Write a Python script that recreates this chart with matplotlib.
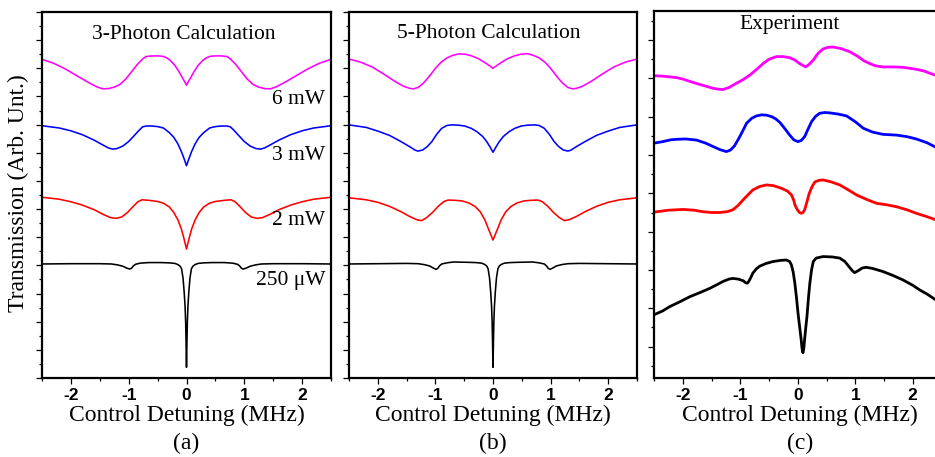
import matplotlib
matplotlib.use("Agg")
import matplotlib.pyplot as plt
from matplotlib.ticker import MultipleLocator, NullFormatter

# ---------------- data ----------------
# Panel (a): 3-photon calculation
a_mag_x = [-2.5, -2.3, -2.1, -1.9, -1.7, -1.55, -1.45, -1.35, -1.25, -1.15, -1.05, -0.95, -0.85, -0.76, -0.7, -0.6,
           -0.5, -0.42, -0.35, -0.28, -0.2, -0.13, -0.07, -0.03, 0.0, 0.03, 0.07, 0.13, 0.2, 0.28, 0.35, 0.42, 0.5,
           0.6, 0.7, 0.76, 0.85, 0.95, 1.05, 1.15, 1.25, 1.35, 1.45, 1.55, 1.7, 1.9, 2.1, 2.3, 2.5]
a_mag_y = [11.32, 11.18, 10.98, 10.74, 10.50, 10.34, 10.27, 10.28, 10.33, 10.43, 10.62, 10.88, 11.14, 11.33, 11.42,
           11.44, 11.44, 11.43, 11.38, 11.28, 11.10, 10.88, 10.66, 10.52, 10.40, 10.52, 10.66, 10.88, 11.10, 11.28,
           11.38, 11.43, 11.44, 11.44, 11.42, 11.33, 11.14, 10.88, 10.62, 10.43, 10.33, 10.28, 10.27, 10.34, 10.50,
           10.74, 10.98, 11.18, 11.32]

a_blu_x = [-2.5, -2.2, -2.0, -1.8, -1.6, -1.45, -1.35, -1.28, -1.2, -1.1, -1.0, -0.9, -0.82, -0.76, -0.7, -0.6, -0.5,
           -0.4, -0.3, -0.22, -0.15, -0.09, -0.04, 0.0, 0.04, 0.09, 0.15, 0.22, 0.3, 0.4, 0.5, 0.6, 0.7, 0.76, 0.82,
           0.9, 1.0, 1.1, 1.2, 1.28, 1.35, 1.45, 1.6, 1.8, 2.0, 2.2, 2.5]
a_blu_y = [8.96, 8.88, 8.78, 8.64, 8.45, 8.28, 8.17, 8.13, 8.15, 8.24, 8.40, 8.62, 8.80, 8.92, 8.95, 8.95, 8.93, 8.88,
           8.72, 8.55, 8.32, 8.05, 7.78, 7.54, 7.78, 8.05, 8.32, 8.55, 8.72, 8.88, 8.93, 8.95, 8.95, 8.92, 8.80, 8.62,
           8.40, 8.24, 8.15, 8.13, 8.17, 8.28, 8.45, 8.64, 8.78, 8.88, 8.96]

a_red_x = [-2.5, -2.2, -2.0, -1.8, -1.6, -1.45, -1.32, -1.22, -1.12, -1.02, -0.92, -0.84, -0.77, -0.65, -0.5, -0.4,
           -0.3, -0.22, -0.15, -0.09, -0.05, -0.02, 0.0, 0.02, 0.05, 0.09, 0.15, 0.22, 0.3, 0.4, 0.5, 0.65, 0.77, 0.84,
           0.92, 1.02, 1.12, 1.22, 1.32, 1.45, 1.6, 1.8, 2.0, 2.2, 2.5]
a_red_y = [6.42, 6.35, 6.26, 6.14, 5.98, 5.82, 5.70, 5.67, 5.72, 5.88, 6.10, 6.26, 6.33, 6.31, 6.27, 6.21, 6.08, 5.88,
           5.62, 5.30, 5.00, 4.75, 4.58, 4.75, 5.00, 5.30, 5.62, 5.88, 6.08, 6.21, 6.27, 6.31, 6.33, 6.26, 6.10, 5.88,
           5.72, 5.67, 5.70, 5.82, 5.98, 6.14, 6.26, 6.35, 6.42]

a_blk_x = [-2.5, -2.0, -1.5, -1.3, -1.2, -1.1, -1.03, -0.98, -0.95, -0.92, -0.88, -0.8, -0.65, -0.45, -0.3, -0.2,
           -0.15, -0.11, -0.085, -0.06, -0.04, -0.025, -0.015, -0.008, -0.003, 0.0, 0.003, 0.008, 0.015, 0.025, 0.04,
           0.06, 0.085, 0.11, 0.15, 0.2, 0.3, 0.45, 0.65, 0.8, 0.88, 0.92, 0.95, 0.98, 1.03, 1.1, 1.2, 1.3, 1.5, 2.0,
           2.5]
a_blk_y = [4.05, 4.06, 4.06, 4.05, 4.02, 3.97, 3.90, 3.87, 3.90, 3.98, 4.04, 4.08, 4.10, 4.10, 4.09, 4.07, 4.03, 3.97,
           3.88, 3.55, 3.05, 2.55, 2.00, 1.30, 0.70, 0.38, 0.70, 1.30, 2.00, 2.55, 3.05, 3.55, 3.88, 3.97, 4.03, 4.07,
           4.09, 4.10, 4.10, 4.08, 4.04, 3.98, 3.90, 3.87, 3.90, 3.97, 4.02, 4.05, 4.06, 4.06, 4.05]

# Panel (b): 5-photon calculation
b_mag_x = [-2.5, -2.3, -2.1, -1.9, -1.7, -1.55, -1.45, -1.38, -1.3, -1.21, -1.1, -1.0, -0.9, -0.8, -0.7, -0.6, -0.48,
           -0.37, -0.26, -0.17, -0.08, 0.0, 0.08, 0.17, 0.26, 0.37, 0.48, 0.6, 0.7, 0.8, 0.9, 1.0, 1.1, 1.21, 1.3,
           1.38, 1.45, 1.55, 1.7, 1.9, 2.1, 2.3, 2.5]
b_mag_y = [11.33, 11.22, 11.05, 10.80, 10.53, 10.36, 10.29, 10.27, 10.32, 10.47, 10.73, 11.00, 11.22, 11.37, 11.46,
           11.51, 11.50, 11.44, 11.35, 11.24, 11.12, 11.00, 11.12, 11.24, 11.35, 11.44, 11.50, 11.52, 11.46, 11.37,
           11.22, 11.00, 10.73, 10.47, 10.32, 10.27, 10.29, 10.36, 10.53, 10.80, 11.05, 11.22, 11.33]

b_blu_x = [-2.5, -2.2, -2.0, -1.8, -1.6, -1.45, -1.35, -1.3, -1.22, -1.14, -1.06, -0.98, -0.89, -0.8, -0.72, -0.6,
           -0.49, -0.38, -0.28, -0.18, -0.11, -0.05, 0.0, 0.05, 0.11, 0.18, 0.28, 0.38, 0.49, 0.6, 0.72, 0.8, 0.89,
           0.98, 1.06, 1.14, 1.22, 1.3, 1.35, 1.45, 1.6, 1.8, 2.0, 2.2, 2.5]
b_blu_y = [8.99, 8.90, 8.77, 8.62, 8.40, 8.22, 8.09, 8.06, 8.10, 8.22, 8.40, 8.65, 8.87, 8.97, 8.99, 8.98, 8.95, 8.87,
           8.75, 8.58, 8.40, 8.20, 8.02, 8.20, 8.40, 8.58, 8.75, 8.87, 8.95, 8.98, 8.99, 8.97, 8.87, 8.65, 8.40, 8.22,
           8.10, 8.06, 8.09, 8.22, 8.40, 8.62, 8.77, 8.90, 8.99]

b_red_x = [-2.5, -2.2, -2.0, -1.8, -1.6, -1.45, -1.32, -1.24, -1.15, -1.05, -0.95, -0.85, -0.78, -0.65, -0.54, -0.42,
           -0.31, -0.22, -0.14, -0.08, -0.03, 0.0, 0.03, 0.08, 0.14, 0.22, 0.31, 0.42, 0.54, 0.65, 0.78, 0.85, 0.95,
           1.05, 1.15, 1.24, 1.32, 1.45, 1.6, 1.8, 2.0, 2.2, 2.5]
b_red_y = [6.40, 6.33, 6.24, 6.10, 5.91, 5.74, 5.62, 5.59, 5.70, 5.88, 6.10, 6.27, 6.32, 6.31, 6.29, 6.22, 6.09, 5.90,
           5.61, 5.30, 5.05, 4.90, 5.05, 5.30, 5.61, 5.90, 6.09, 6.22, 6.29, 6.31, 6.32, 6.27, 6.10, 5.88, 5.70, 5.59,
           5.62, 5.74, 5.91, 6.10, 6.24, 6.33, 6.40]

b_blk_x = [-2.5, -2.0, -1.5, -1.3, -1.2, -1.1, -1.04, -0.99, -0.96, -0.93, -0.89, -0.8, -0.69, -0.45, -0.3, -0.2,
           -0.15, -0.11, -0.085, -0.06, -0.04, -0.025, -0.015, -0.008, -0.003, 0.0, 0.003, 0.008, 0.015, 0.025, 0.04,
           0.06, 0.085, 0.11, 0.15, 0.2, 0.3, 0.45, 0.69, 0.8, 0.89, 0.93, 0.96, 0.99, 1.04, 1.1, 1.2, 1.3, 1.5, 2.0,
           2.5]
b_blk_y = [4.05, 4.06, 4.07, 4.06, 4.03, 3.98, 3.91, 3.86, 3.89, 3.98, 4.05, 4.09, 4.12, 4.11, 4.10, 4.08, 4.04, 3.98,
           3.88, 3.55, 3.05, 2.55, 2.00, 1.30, 0.70, 0.38, 0.70, 1.30, 2.00, 2.55, 3.05, 3.55, 3.88, 3.98, 4.04, 4.08,
           4.10, 4.11, 4.12, 4.09, 4.05, 3.98, 3.89, 3.86, 3.91, 3.98, 4.03, 4.06, 4.07, 4.06, 4.05]

# Panel (c): experiment
c_mag_x = [-2.5, -2.35, -2.23, -2.1, -1.99, -1.85, -1.70, -1.58, -1.47, -1.38, -1.30, -1.2, -1.07, -0.95, -0.83,
           -0.72, -0.60, -0.50, -0.37, -0.25, -0.14, -0.05, 0.03, 0.09, 0.14, 0.2, 0.27, 0.35, 0.44, 0.52, 0.61, 0.75,
           0.90, 1.05, 1.15, 1.25, 1.35, 1.48, 1.65, 1.83, 2.06, 2.2, 2.38, 2.5]
c_mag_y = [8.07, 8.06, 8.04, 8.02, 7.98, 7.91, 7.84, 7.79, 7.74, 7.72, 7.71, 7.76, 7.87, 7.97, 8.09, 8.23, 8.39, 8.50,
           8.57, 8.57, 8.54, 8.48, 8.39, 8.34, 8.30, 8.37, 8.48, 8.65, 8.77, 8.81, 8.82, 8.78, 8.70, 8.57, 8.46, 8.39,
           8.33, 8.30, 8.30, 8.29, 8.24, 8.19, 8.09, 8.02]

c_blu_x = [-2.5, -2.35, -2.2, -2.11, -1.95, -1.76, -1.6, -1.47, -1.35, -1.24, -1.17, -1.1, -1.03, -0.96, -0.89, -0.80,
           -0.72, -0.63, -0.54, -0.45, -0.38, -0.31, -0.22, -0.14, -0.07, 0.0, 0.06, 0.12, 0.18, 0.24, 0.31, 0.38,
           0.47, 0.56, 0.70, 0.85, 1.0, 1.14, 1.3, 1.48, 1.72, 1.9, 2.06, 2.25, 2.38, 2.5]
c_blu_y = [6.31, 6.35, 6.40, 6.41, 6.42, 6.39, 6.31, 6.22, 6.14, 6.09, 6.13, 6.24, 6.42, 6.62, 6.83, 6.96, 7.02, 7.05,
           7.04, 7.00, 6.94, 6.85, 6.68, 6.52, 6.40, 6.35, 6.38, 6.48, 6.68, 6.87, 7.01, 7.09, 7.11, 7.10, 7.07, 7.02,
           6.87, 6.70, 6.60, 6.54, 6.52, 6.48, 6.42, 6.32, 6.22, 6.12]

c_red_x = [-2.5, -2.25, -1.99, -1.8, -1.65, -1.5, -1.36, -1.23, -1.13, -1.04, -0.95, -0.86, -0.78, -0.66, -0.54,
           -0.42, -0.28, -0.18, -0.11, -0.07, -0.05, -0.01, 0.03, 0.06, 0.09, 0.12, 0.16, 0.20, 0.25, 0.30, 0.37, 0.44,
           0.58, 0.73, 0.88, 1.02, 1.2, 1.37, 1.55, 1.72, 1.9, 2.06, 2.25, 2.38, 2.5]
c_red_y = [4.51, 4.56, 4.58, 4.56, 4.52, 4.50, 4.50, 4.52, 4.57, 4.68, 4.83, 4.97, 5.09, 5.18, 5.22, 5.20, 5.13, 5.06,
           4.96, 4.82, 4.70, 4.58, 4.50, 4.48, 4.50, 4.57, 4.78, 5.00, 5.18, 5.30, 5.34, 5.35, 5.30, 5.22, 5.09, 4.96,
           4.84, 4.74, 4.70, 4.65, 4.57, 4.48, 4.39, 4.32, 4.26]

c_blk_x = [-2.5, -2.35, -2.23, -2.05, -1.88, -1.7, -1.53, -1.40, -1.30, -1.2, -1.13, -1.03, -0.95, -0.90, -0.87,
           -0.83, -0.78, -0.72, -0.66, -0.55, -0.43, -0.30, -0.20, -0.14, -0.11, -0.08, -0.05, -0.02, 0.005, 0.03,
           0.058, 0.075, 0.09, 0.105, 0.12, 0.14, 0.16, 0.185, 0.21, 0.24, 0.27, 0.32, 0.44, 0.6, 0.73, 0.82, 0.90,
           0.95, 0.99, 1.05, 1.12, 1.19, 1.3, 1.48, 1.65, 1.83, 2.0, 2.12, 2.25, 2.38, 2.5]
c_blk_y = [1.83, 1.93, 2.04, 2.17, 2.30, 2.41, 2.52, 2.62, 2.70, 2.76, 2.78, 2.76, 2.72, 2.66, 2.66, 2.76, 2.92, 3.03,
           3.10, 3.17, 3.22, 3.25, 3.26, 3.22, 3.13, 2.95, 2.65, 2.25, 1.87, 1.55, 1.20, 0.95, 0.84, 0.95, 1.20, 1.50,
           1.78, 2.25, 2.65, 3.00, 3.22, 3.31, 3.35, 3.34, 3.31, 3.22, 3.07, 2.98, 2.93, 2.98, 3.05, 3.07, 3.04, 2.96,
           2.86, 2.74, 2.60, 2.48, 2.37, 2.24, 2.14]

titles = ["3-Photon Calculation", "5-Photon Calculation", "Experiment"]
power_labels = ["6 mW", "3 mW", "2 mW", "250 \u03bcW"]
power_label_y = [9.88, 7.92, 5.61, 3.45]
panel_tags = ["(a)", "(b)", "(c)"]
xlabel = "Control Detuning (MHz)"
ylabel = "Transmission (Arb. Unt.)"
x_ticks = [-2, -1, 0, 1, 2]
colors = ["#ff00ff", "#0000ff", "#ff0000", "#000000"]

# ---------------- figure ----------------
W, H = 935, 457
fig = plt.figure(figsize=(W / 100, H / 100), dpi=100)
fig.patch.set_facecolor("white")
SERIF = ["Liberation Serif", "DejaVu Serif"]
SANS = ["Liberation Sans", "DejaVu Sans"]


def rect(l, r, t, b):
    return [l / W, (H - b) / H, (r - l) / W, (b - t) / H]


ax_a = fig.add_axes(rect(42, 331, 12, 378))
ax_b = fig.add_axes(rect(349, 637, 12, 378))
ax_c = fig.add_axes(rect(654, 941.5, 11, 378))

series = [
    (ax_a, [(a_mag_x, a_mag_y), (a_blu_x, a_blu_y), (a_red_x, a_red_y), (a_blk_x, a_blk_y)], 1.15),
    (ax_b, [(b_mag_x, b_mag_y), (b_blu_x, b_blu_y), (b_red_x, b_red_y), (b_blk_x, b_blk_y)], 1.15),
    (ax_c, [(c_mag_x, c_mag_y), (c_blu_x, c_blu_y), (c_red_x, c_red_y), (c_blk_x, c_blk_y)], 2.0),
]

for i, (ax, curves, lw) in enumerate(series):
    for (xs, ys), col in zip(curves, colors):
        ax.plot(xs, ys, color=col, lw=lw, solid_joinstyle="round", solid_capstyle="round")
    ax.set_xlim(-2.5, 2.5)
    if i < 2:
        ax.set_ylim(0, 13)
    else:
        ax.set_ylim(0.18, 9.76)
    ax.xaxis.set_minor_locator(MultipleLocator(0.5))
    ax.yaxis.set_major_locator(MultipleLocator(1))
    ax.yaxis.set_minor_locator(MultipleLocator(0.5))
    ax.yaxis.set_major_formatter(NullFormatter())
    ax.set_xticks(x_ticks)
    ax.set_xticklabels(["%d" % t for t in x_ticks])
    for lab in ax.get_xticklabels():
        lab.set_family(SANS)
        lab.set_fontweight("bold")
        lab.set_fontsize(12.5)
    ax.tick_params(axis="both", which="major", direction="out", length=4, width=0.9, pad=3)
    ax.tick_params(axis="both", which="minor", direction="out", length=2.2, width=0.9)
    ax.tick_params(axis="y", which="both", labelleft=False)
    for sp in ax.spines.values():
        sp.set_linewidth(1.6)

# titles inside panels
ax_a.text(-0.05, 12.2, titles[0], ha="center", va="center", family=SERIF, fontsize=15.5)
ax_b.text(-0.07, 12.25, titles[1], ha="center", va="center", family=SERIF, fontsize=15.5)
ax_c.text(-0.15, (385 - 24) / 38.33, titles[2], ha="center", va="center", family=SERIF, fontsize=15.5)

for lab, yy in zip(power_labels, power_label_y):
    ax_a.text(2.40, yy, lab, ha="right", va="center", family=SERIF, fontsize=15.5)

# x labels and panel tags (figure pixel coordinates)
centers = [186.5, 493, 800]
for cx, tag in zip(centers, panel_tags):
    fig.text(cx / W, 1 - 415 / H, xlabel, ha="center", va="center", family=SERIF, fontsize=17)
    fig.text(cx / W, 1 - 443 / H, tag, ha="center", va="center", family=SERIF, fontsize=17)

fig.text(18 / W, 1 - 193 / H, ylabel, ha="center", va="center", rotation=90, family=SERIF, fontsize=17)

fig.savefig("out.png", dpi=100)
